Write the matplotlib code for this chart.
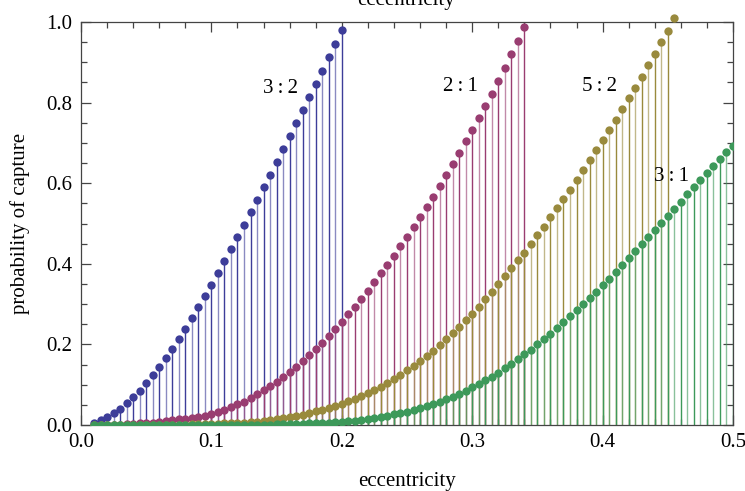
import numpy as np
import matplotlib
matplotlib.use("Agg")
import matplotlib.pyplot as plt
from matplotlib.ticker import MultipleLocator

plt.rcParams['font.family'] = ['Liberation Serif', 'DejaVu Serif']

# eccentricity grid: every series is sampled from 0.01 in steps of 0.005
e_start = 0.01
e_step = 0.005

p_32 = [0.006, 0.012, 0.019, 0.029, 0.040, 0.054, 0.069, 0.085, 0.103, 0.123,
        0.145, 0.166, 0.189, 0.214, 0.239, 0.266, 0.292, 0.320, 0.348, 0.376,
        0.406, 0.436, 0.467, 0.496, 0.528, 0.558, 0.590, 0.621, 0.653, 0.685,
        0.716, 0.749, 0.782, 0.814, 0.847, 0.879, 0.912, 0.946, 0.979]

p_21 = [0.000, 0.000, 0.001, 0.001, 0.001, 0.002, 0.003, 0.004, 0.005, 0.006,
        0.007, 0.010, 0.012, 0.014, 0.016, 0.018, 0.021, 0.023, 0.028, 0.032,
        0.037, 0.044, 0.051, 0.058, 0.066, 0.076, 0.086, 0.096, 0.107, 0.119,
        0.131, 0.144, 0.158, 0.173, 0.188, 0.203, 0.220, 0.237, 0.256, 0.275,
        0.293, 0.313, 0.333, 0.354, 0.376, 0.398, 0.420, 0.444, 0.467, 0.491,
        0.515, 0.541, 0.567, 0.593, 0.620, 0.647, 0.675, 0.704, 0.733, 0.762,
        0.792, 0.822, 0.854, 0.886, 0.920, 0.953, 0.988]

p_52 = [0.000, 0.000, 0.000, 0.000, 0.000, 0.000, 0.000, 0.000, 0.001, 0.001,
        0.001, 0.001, 0.001, 0.001, 0.001, 0.002, 0.002, 0.002, 0.003, 0.003,
        0.004, 0.004, 0.005, 0.006, 0.007, 0.008, 0.010, 0.012, 0.014, 0.017,
        0.020, 0.023, 0.026, 0.030, 0.034, 0.038, 0.043, 0.048, 0.053, 0.059,
        0.065, 0.072, 0.080, 0.087, 0.095, 0.105, 0.115, 0.125, 0.136, 0.147,
        0.159, 0.171, 0.184, 0.199, 0.213, 0.228, 0.243, 0.260, 0.276, 0.294,
        0.312, 0.331, 0.350, 0.370, 0.389, 0.409, 0.428, 0.448, 0.471, 0.492,
        0.515, 0.538, 0.561, 0.584, 0.608, 0.632, 0.657, 0.682, 0.706, 0.732,
        0.758, 0.784, 0.811, 0.837, 0.864, 0.893, 0.921, 0.950, 0.978]
# last 5:2 point lies just past the top of the plot range
p_52_over = (0.455, 1.010)

p_31 = [0.000, 0.000, 0.000, 0.000, 0.000, 0.000, 0.000, 0.000, 0.000, 0.000,
        0.000, 0.000, 0.000, 0.000, 0.000, 0.000, 0.000, 0.000, 0.000, 0.000,
        0.001, 0.001, 0.001, 0.001, 0.001, 0.001, 0.001, 0.001, 0.002, 0.002,
        0.002, 0.003, 0.003, 0.004, 0.004, 0.005, 0.006, 0.007, 0.008, 0.009,
        0.011, 0.013, 0.015, 0.017, 0.021, 0.023, 0.027, 0.030, 0.033, 0.037,
        0.042, 0.047, 0.052, 0.058, 0.064, 0.070, 0.078, 0.085, 0.094, 0.102,
        0.111, 0.120, 0.130, 0.141, 0.151, 0.163, 0.175, 0.187, 0.200, 0.213,
        0.227, 0.241, 0.255, 0.270, 0.285, 0.300, 0.314, 0.330, 0.347, 0.363,
        0.380, 0.397, 0.414, 0.431, 0.448, 0.466, 0.484, 0.501, 0.519, 0.536,
        0.554, 0.572, 0.590, 0.607, 0.625, 0.642, 0.659, 0.677, 0.693]

series = [
    ("3\u2009:\u20092", p_32, "#3d3d99", (0.153, 0.836)),
    ("2\u2009:\u20091", p_21, "#993d71", (0.291, 0.839)),
    ("5\u2009:\u20092", p_52, "#998a3d", (0.398, 0.839)),
    ("3\u2009:\u20091", p_31, "#3d995a", (0.453, 0.616)),
]

fig = plt.figure(figsize=(7.45, 4.91), dpi=100)
ax = fig.add_axes([0.1087, 0.1344, 0.8752, 0.8208])

for name, vals, col, pos in series:
    x = e_start + e_step * np.arange(len(vals))
    y = np.array(vals)
    # stems alternate a little in shade, like the original rendering
    for i in range(len(x)):
        a = 1.0 if i % 2 == 0 else 0.6
        ax.plot([x[i], x[i]], [0, y[i]], color=col, lw=1.0, alpha=a, zorder=2)
    ax.plot(x, y, 'o', color=col, ms=6.0, mec='none', zorder=3)
    ax.text(pos[0], pos[1], name, fontsize=15, ha='center', va='center', zorder=4)

ax.plot([p_52_over[0]], [p_52_over[1]], 'o', color="#998a3d", ms=6.0,
        mec='none', zorder=3, clip_on=False)

ax.set_xlim(0, 0.5)
ax.set_ylim(0, 1.0)
ax.xaxis.set_major_locator(MultipleLocator(0.1))
ax.xaxis.set_minor_locator(MultipleLocator(0.02))
ax.yaxis.set_major_locator(MultipleLocator(0.2))
ax.yaxis.set_minor_locator(MultipleLocator(0.05))
ax.xaxis.set_major_formatter(matplotlib.ticker.FormatStrFormatter('%.1f'))
ax.yaxis.set_major_formatter(matplotlib.ticker.FormatStrFormatter('%.1f'))
ax.tick_params(which='both', direction='in', top=True, right=True,
               color='#444444', width=0.9, labelsize=15)
ax.tick_params(which='major', length=7)
ax.tick_params(which='minor', length=4)
ax.tick_params(axis='x', pad=6)
ax.tick_params(axis='y', pad=6)
for s in ax.spines.values():
    s.set_color('#444444')
    s.set_linewidth(0.9)

ax.set_xlabel("eccentricity", fontsize=15, labelpad=14)
ax.set_ylabel("probability of capture", fontsize=15, labelpad=12)
# frame label on top, mostly cut off by the image edge
fig.text(0.545, 1.0, "eccentricity", fontsize=15, ha='center', va='center')

fig.savefig("out.png", dpi=100)
